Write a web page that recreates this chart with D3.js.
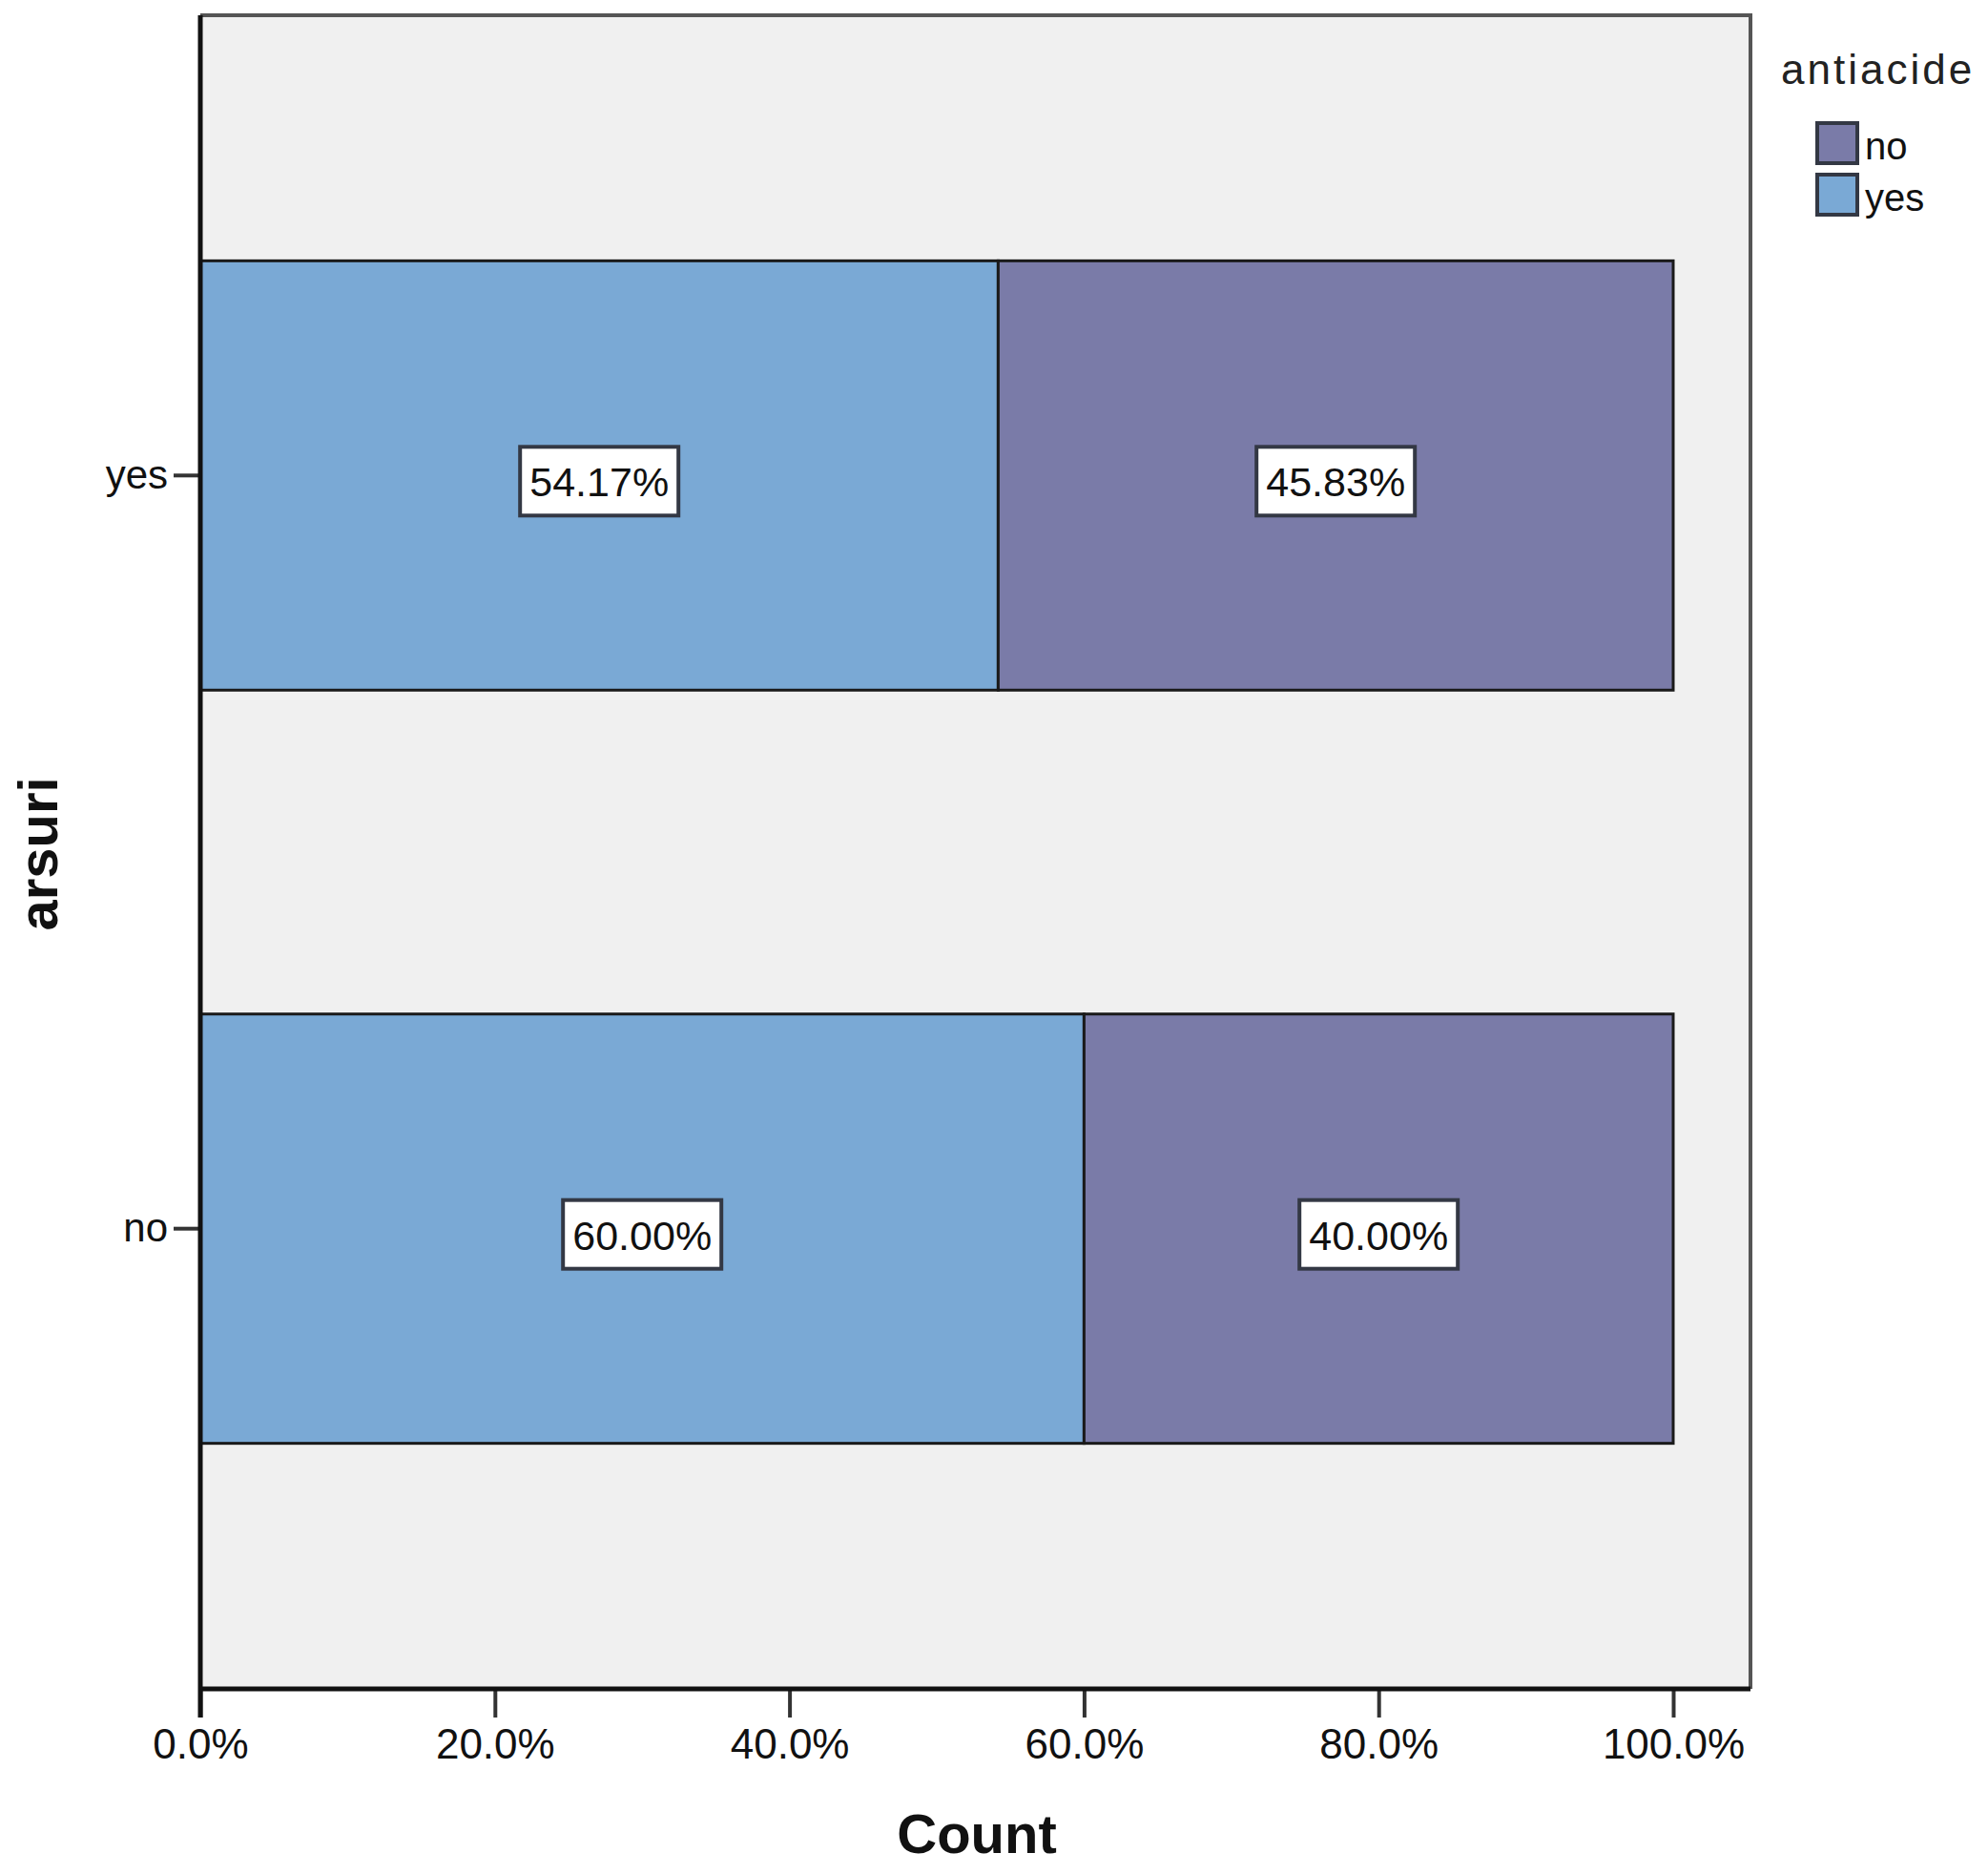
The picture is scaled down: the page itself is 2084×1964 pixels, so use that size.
<!DOCTYPE html>
<html>
<head>
<meta charset="utf-8">
<script src="https://cdn.jsdelivr.net/npm/d3@7"></script>
<style>
  html, body { margin: 0; padding: 0; background: #ffffff; }
  svg { display: block; }
  text { font-family: "Liberation Sans", Arial, sans-serif; }
</style>
</head>
<body>
<div id="chart"></div>
<script>
// ---- data ----
const categories = ["yes", "no"];            // arsuri
const seriesKeys = ["yes", "no"];            // antiacide (stack order left -> right)
const antiacideYes = [54.17, 60.00];         // percent
const antiacideNo  = [45.83, 40.00];         // percent
const legendKeys = ["no", "yes"];
const xTicks = [0, 0.2, 0.4, 0.6, 0.8, 1.0];

const colors = { yes: "#7aa9d5", no: "#7a7ba8" };

const W = 2084, H = 1964;
const plot = { left: 210, right: 1835, top: 16, bottom: 1770 };

const rows = categories.map((c, i) => ({ cat: c, yes: antiacideYes[i] / 100, no: antiacideNo[i] / 100 }));

const svg = d3.select("#chart").append("svg").attr("width", W).attr("height", H);

const x = d3.scaleLinear().domain([0, 1]).range([plot.left, 1754]);
const y = d3.scaleBand().domain(categories).range([plot.top, plot.bottom])
  .paddingInner(0.43).paddingOuter(0.326);

// plot background and frame
svg.append("rect").attr("x", plot.left).attr("y", plot.top)
  .attr("width", plot.right - plot.left).attr("height", plot.bottom - plot.top)
  .attr("fill", "#f0f0f0");
svg.append("path")
  .attr("d", `M${plot.left},${plot.top}H${plot.right}V${plot.bottom}`)
  .attr("fill", "none").attr("stroke", "#555").attr("stroke-width", 4);

// stacked bars
const stacked = d3.stack().keys(seriesKeys)(rows);
const layers = svg.append("g").selectAll("g").data(stacked).join("g")
  .attr("fill", d => colors[d.key]);
layers.selectAll("rect").data(d => d.map(v => ({ v, key: d.key }))).join("rect")
  .attr("x", d => x(d.v[0]))
  .attr("y", d => y(d.v.data.cat))
  .attr("width", d => x(d.v[1]) - x(d.v[0]))
  .attr("height", y.bandwidth())
  .attr("stroke", "#1a1a1a").attr("stroke-width", 3);

// value labels
const lbl = svg.append("g");
stacked.forEach(layer => {
  layer.forEach(v => {
    const cx = (x(v[0]) + x(v[1])) / 2;
    const cy = y(v.data.cat) + y.bandwidth() / 2 + 6;
    const g = lbl.append("g").attr("transform", `translate(${cx},${cy})`);
    g.append("rect").attr("x", -83).attr("y", -36).attr("width", 166).attr("height", 72)
      .attr("fill", "#ffffff").attr("stroke", "#333844").attr("stroke-width", 4);
    g.append("text").attr("text-anchor", "middle").attr("y", 16)
      .attr("font-size", 43).attr("fill", "#111")
      .text(((v[1] - v[0]) * 100).toFixed(2) + "%");
  });
});

// x axis
const xAxis = svg.append("g").attr("transform", `translate(0,${plot.bottom})`)
  .call(d3.axisBottom(x).tickValues(xTicks).tickFormat(d3.format(".1%")).tickSize(30).tickPadding(12));
xAxis.select(".domain").remove();
xAxis.selectAll(".tick line").attr("stroke", "#333").attr("stroke-width", 4);
xAxis.selectAll(".tick text").attr("font-size", 44).attr("fill", "#111")
  .attr("font-family", "'Liberation Sans', Arial, sans-serif");
svg.append("line").attr("x1", plot.left - 2).attr("x2", plot.right)
  .attr("y1", plot.bottom).attr("y2", plot.bottom)
  .attr("stroke", "#111").attr("stroke-width", 5);

// y axis
const yAxis = svg.append("g").attr("transform", `translate(${plot.left},0)`)
  .call(d3.axisLeft(y).tickSize(28).tickPadding(6));
yAxis.select(".domain").remove();
yAxis.selectAll(".tick line").attr("stroke", "#333").attr("stroke-width", 4);
yAxis.selectAll(".tick text").attr("font-size", 42).attr("fill", "#111")
  .attr("font-family", "'Liberation Sans', Arial, sans-serif");
svg.append("line").attr("x1", plot.left).attr("x2", plot.left)
  .attr("y1", plot.top).attr("y2", plot.bottom + 30)
  .attr("stroke", "#111").attr("stroke-width", 5);

// axis titles
svg.append("text").attr("x", 1024).attr("y", 1942).attr("text-anchor", "middle")
  .attr("font-size", 58).attr("font-weight", "bold").attr("fill", "#111").text("Count");
svg.append("text").attr("transform", "translate(60,895) rotate(-90)").attr("text-anchor", "middle")
  .attr("font-size", 58).attr("font-weight", "bold").attr("fill", "#111").text("arsuri");

// legend
svg.append("text").attr("x", 1867).attr("y", 88).attr("font-size", 44)
  .attr("letter-spacing", 3).attr("fill", "#222").text("antiacide");
const leg = svg.append("g").selectAll("g").data(legendKeys).join("g")
  .attr("transform", (d, i) => `translate(1905,${129 + i * 54})`);
leg.append("rect").attr("width", 42).attr("height", 42)
  .attr("fill", d => colors[d]).attr("stroke", "#333844").attr("stroke-width", 4);
leg.append("text").attr("x", 50).attr("y", 38).attr("font-size", 40).attr("fill", "#111").text(d => d);
</script>
</body>
</html>
